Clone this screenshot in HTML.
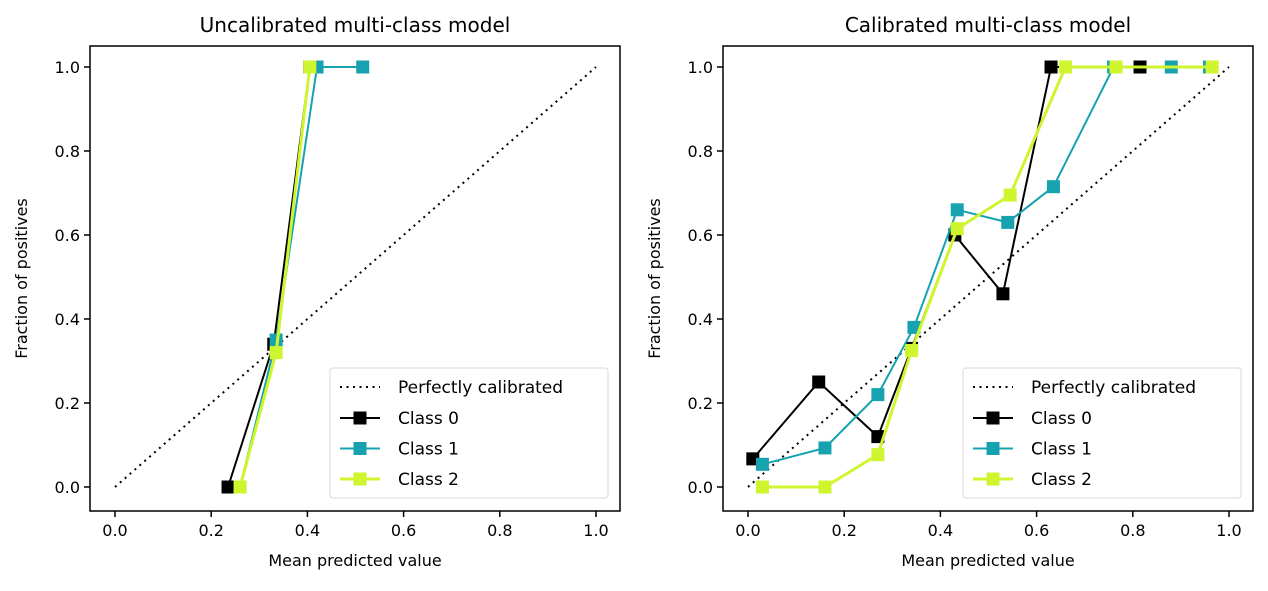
<!DOCTYPE html>
<html><head><meta charset="utf-8"><style>
body{margin:0;background:#fff;}
svg text{font-family:"DejaVu Sans","Liberation Sans",sans-serif;fill:#000;}
</style></head><body>
<svg id="chart" width="1268" height="586" xmlns="http://www.w3.org/2000/svg"></svg>
<script>
const xTicks=[0,0.2,0.4,0.6,0.8,1.0];
const yTicks=[0,0.2,0.4,0.6,0.8,1.0];
const tickLabels=["0.0","0.2","0.4","0.6","0.8","1.0"];
const seriesNames=["Class 0","Class 1","Class 2"];
const seriesColors=["#000000","#17a2b0","#cff52e"];
const leftX0=[0.235,0.33,0.405];
const leftY0=[0,0.34,1.0];
const leftX1=[0.26,0.335,0.42,0.515];
const leftY1=[0,0.35,1,1];
const leftX2=[0.26,0.335,0.405];
const leftY2=[0,0.32,1];
const rightX0=[0.01,0.147,0.27,0.34,0.43,0.53,0.63,0.815,0.96];
const rightY0=[0.067,0.25,0.12,0.33,0.6,0.46,1,1,1];
const rightX1=[0.03,0.16,0.27,0.345,0.435,0.54,0.635,0.76,0.88,0.96];
const rightY1=[0.054,0.093,0.22,0.38,0.66,0.63,0.715,1,1,1];
const rightX2=[0.03,0.16,0.27,0.34,0.435,0.545,0.66,0.765,0.965];
const rightY2=[0,0,0.077,0.325,0.615,0.695,1,1,1];

const svg=document.getElementById('chart');
const NS='http://www.w3.org/2000/svg';
function mk(tag,attrs,parent){const e=document.createElementNS(NS,tag);for(const k in attrs)e.setAttribute(k,attrs[k]);(parent||svg).appendChild(e);return e;}

function panel(id,left,title,xs,ys){
  const L=left, R=left+530, T=46, B=511;
  const sx=v=>L+25+v*481, sy=v=>487-v*420;
  const g=mk('g',{});
  
  
  const t=mk('text',{x:(L+R)/2,y:32,'font-size':20,'text-anchor':'middle'},g);t.textContent=title;
  
  const pl=mk('line',{x1:sx(0),y1:sy(0),x2:sx(1),y2:sy(1),stroke:'#000','stroke-width':2,'stroke-dasharray':'2,4.5'},g);
  
  for(let s=0;s<3;s++){
    const X=xs[s],Y=ys[s];
    const pts=X.map((x,i)=>sx(x)+','+sy(Y[i])).join(' ');
    const ln=mk('polyline',{points:pts,fill:'none',stroke:seriesColors[s],'stroke-width':s==2?3:2},g);
    
    X.forEach((x,i)=>{const m=mk('rect',{x:sx(x)-6.5,y:sy(Y[i])-6.5,width:13,height:13,fill:seriesColors[s]},g);
      });
  }
  const fr=mk('rect',{x:L,y:T,width:R-L,height:B-T,fill:'none',stroke:'#000','stroke-width':1.5},g);
  
  xTicks.forEach((v,i)=>{mk('line',{x1:sx(v),y1:B,x2:sx(v),y2:B+6,stroke:'#000','stroke-width':1.5},g);
    const tx=mk('text',{x:sx(v),y:B+25,'font-size':16,'text-anchor':'middle'},g);tx.textContent=tickLabels[i];
    });
  yTicks.forEach((v,i)=>{mk('line',{x1:L-6,y1:sy(v),x2:L,y2:sy(v),stroke:'#000','stroke-width':1.5},g);
    const ty=mk('text',{x:L-10,y:sy(v)+6,'font-size':16,'text-anchor':'end'},g);ty.textContent=tickLabels[i];
    });
  const xl=mk('text',{x:(L+R)/2,y:566,'font-size':16,'text-anchor':'middle'},g);xl.textContent='Mean predicted value';
  
  const yl=mk('text',{x:0,y:0,'font-size':16,'text-anchor':'middle',transform:`translate(${L-63},${(T+B)/2}) rotate(-90)`},g);yl.textContent='Fraction of positives';
  
  const lx=R-290, ly=368;
  const lg=mk('g',{},g);
  
  mk('rect',{x:lx,y:ly,width:278,height:130,rx:3,fill:'#fff',stroke:'#d8d8d8'},lg);
  mk('line',{x1:lx+10,y1:ly+19,x2:lx+50,y2:ly+19,stroke:'#000','stroke-width':2,'stroke-dasharray':'2,4.5'},lg);
  const t0=mk('text',{x:lx+68,y:ly+25,'font-size':17},lg);t0.textContent='Perfectly calibrated';
  
  seriesNames.forEach((n,s)=>{const yy=ly+50+s*30.5;
    mk('line',{x1:lx+10,y1:yy,x2:lx+50,y2:yy,stroke:seriesColors[s],'stroke-width':s==2?3:2},lg);
    mk('rect',{x:lx+23.5,y:yy-6.5,width:13,height:13,fill:seriesColors[s]},lg);
    const tt=mk('text',{x:lx+68,y:yy+6,'font-size':17},lg);tt.textContent=n;
    });
}
panel('left-panel',90,'Uncalibrated multi-class model',[leftX0,leftX1,leftX2],[leftY0,leftY1,leftY2]);
panel('right-panel',723,'Calibrated multi-class model',[rightX0,rightX1,rightX2],[rightY0,rightY1,rightY2]);
</script>
</body></html>
